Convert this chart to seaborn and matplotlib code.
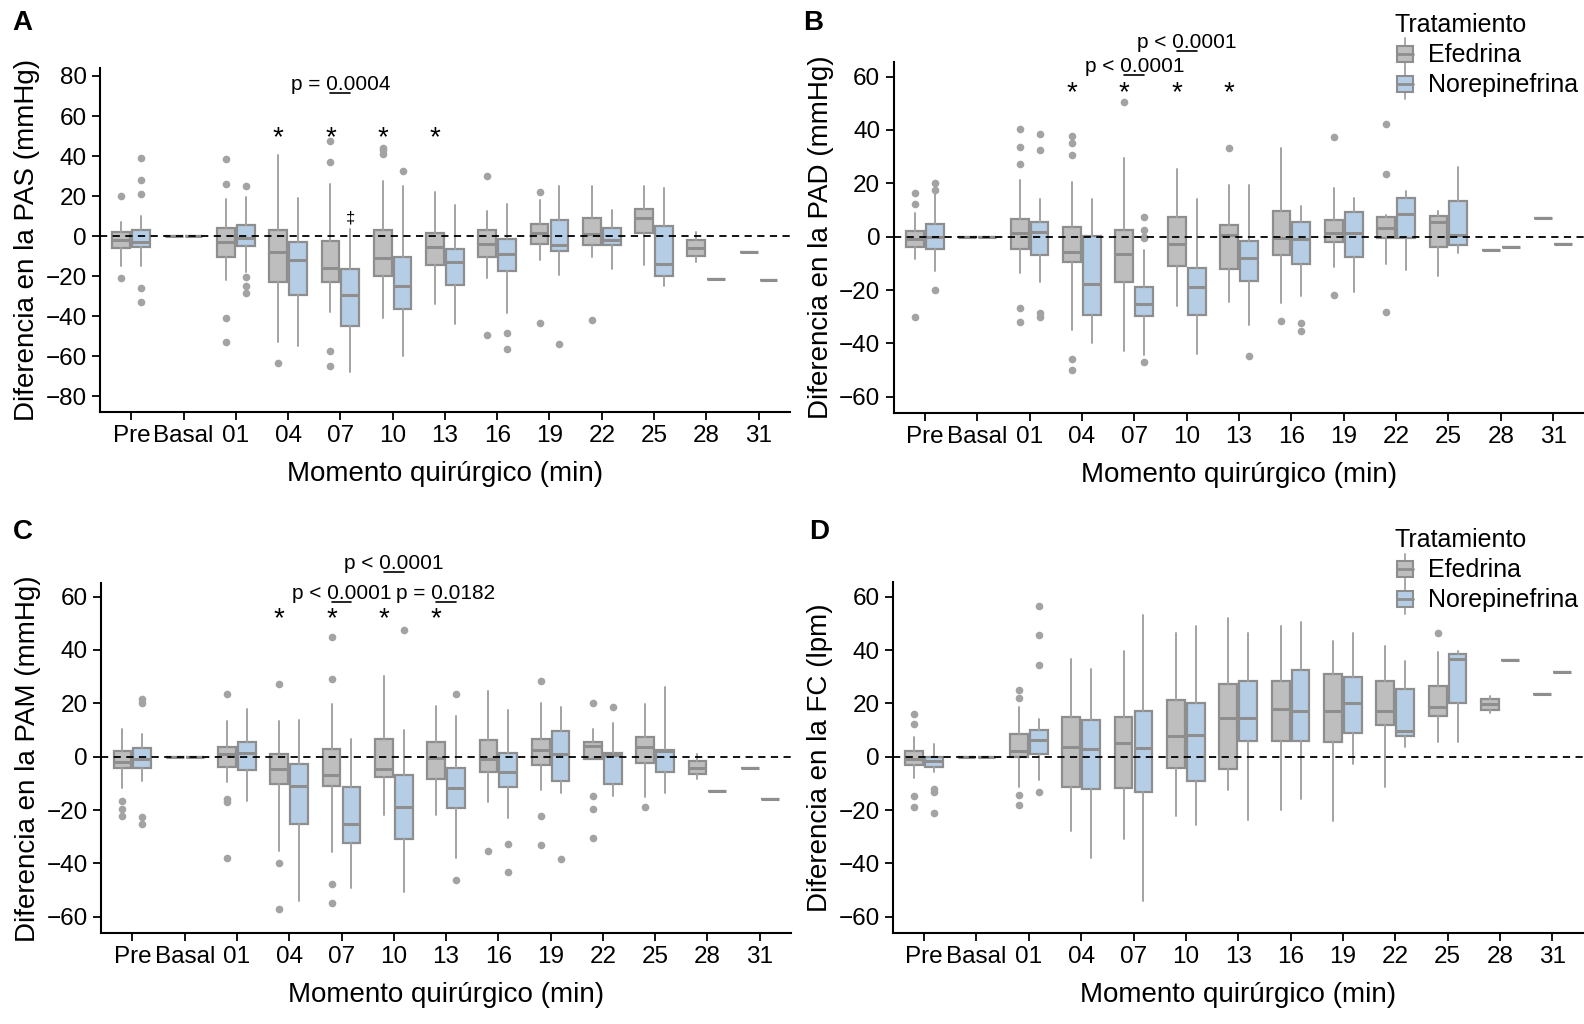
import matplotlib
matplotlib.use("Agg")
import matplotlib.pyplot as plt
import seaborn as sns
from matplotlib.legend_handler import HandlerBase
from matplotlib.patches import Rectangle, Patch
from matplotlib.lines import Line2D

sns.set_style("ticks")
plt.rcParams['font.family'] = ['Liberation Sans', 'DejaVu Sans']
plt.rcParams.update({'text.color': 'black', 'axes.labelcolor': 'black',
                     'xtick.color': 'black', 'ytick.color': 'black'})

moments = ["Pre", "Basal", "01", "04", "07", "10", "13", "16", "19", "22", "25", "28", "31"]
groups = ["Efedrina", "Norepinefrina"]

# each row: [whisker low, q1, median, q3, whisker high]
# --- PAS ---
pas_efe = [[-15, -5.8, -1.7, 2.2, 7.2], [0, 0, 0, 0, 0], [-21.7, -10.3, -3, 4.2, 18.7],
           [-53, -23, -8, 3.3, 40.5], [-38, -23, -15.8, -2.5, 26.2], [-40.8, -20, -10.8, 3.3, 27.5],
           [-33.8, -14.5, -5.5, 1.8, 22.2], [-20.8, -10.3, -3.8, 3.2, 12.8], [-11.7, -3.7, 1.7, 6.2, 17.8],
           [-10.5, -4.5, 1.3, 9.3, 25], [-14.2, 1.8, 9.2, 13.5, 25], [-12.7, -9.8, -5.8, -1.8, 2],
           [-8, -8, -8, -8, -8]]
pas_efe_out = [[20, -21], [], [38.3, 26.2, -41, -53], [-63.3], [47.5, 37.2, -57.2, -65], [44, 43, 41.2],
               [], [30.2, -49.2], [22.2, -43.2], [-41.8], [], [], []]
pas_nor = [[-15, -5.2, -3, 3, 10], [0, 0, 0, 0, 0], [-18, -4.7, -0.8, 5.5, 19.5],
           [-55, -29.2, -12, -2.8, 19.2], [-67.8, -45, -29.2, -16.3, 3.7], [-59.7, -36.3, -25, -10.3, 25],
           [-43.8, -24.2, -12.7, -6.2, 15.8], [-38.3, -17.2, -8.7, -1.5, 16], [-19.5, -7.2, -4.3, 8, 25],
           [-16.3, -4.2, -2, 4, 13], [-25, -20, -14, 5.3, 23.8], [-21.2, -21.2, -21.2, -21.2, -21.2],
           [-22, -22, -22, -22, -22]]
pas_nor_out = [[39, 28, 21, -26, -33], [], [25, -20.5, -24.7, -28.3], [], [], [32.5],
               [], [-48.2, -56.2], [-53.8], [], [], [], []]

# --- PAD ---
pad_efe = [[-8.4, -3.9, -0.9, 2.25, 8.75], [0, 0, 0, 0, 0], [-13.75, -4.75, 1.5, 6.5, 21.25],
           [-35, -9.5, -5.6, 3.5, 20.5], [-42.75, -16.9, -6.6, 2.5, 29.6], [-25.9, -11, -2.75, 7.5, 25.5],
           [-24.6, -12.25, 0.5, 4.4, 19.4], [-24.75, -7, -0.4, 9.75, 33.1], [-11.25, -2.1, 1.5, 6.4, 18.1],
           [-10.25, -0.6, 3.4, 7.25, 8.1], [-14.75, -4, 5.4, 7.75, 9.75], [-5, -5, -5, -5, -5],
           [7, 7, 7, 7, 7]]
pad_efe_out = [[16.25, 12.4, -30], [], [40.4, 33.6, 27.25, -26.9, -32.1], [37.9, 35.25, 30.6, -46, -50],
               [50.5], [], [33.4], [-31.6], [37.5, -21.9], [42.4, 23.5, -28.1], [], [], []]
pad_nor = [[-13, -4.5, 0, 4.6, 16], [0, 0, 0, 0, 0], [-16.9, -7, 1.6, 5.6, 14.1],
           [-39.75, -29.4, -17.9, 0.25, 14], [-44.4, -29.75, -25.1, -18.75, -5], [-44, -29.5, -18.75, -11.6, 14],
           [-33.1, -16.6, -7.9, -1.6, 19.4], [-22.25, -10.1, -0.75, 5.4, 11.6], [-20.9, -7.6, 1.5, 9.1, 14.6],
           [-12.5, -0.5, 8.4, 14.4, 17.1], [-6.25, -3.25, 0.5, 13.5, 26.25], [-3.9, -3.9, -3.9, -3.9, -3.9],
           [-2.6, -2.6, -2.6, -2.6, -2.6]]
pad_nor_out = [[20, 17.6, -20], [], [38.4, 32.5, -28.75, -30], [], [7.5, 2.5, 0, -0.6, -47.1], [],
               [-44.75], [-32.25, -35.4], [], [], [], [], []]

# --- PAM ---
pam_efe = [[-11.9, -4.25, -2.1, 2, 10.25], [0, 0, 0, 0, 0], [-9.6, -4, 1.1, 3.5, 13.4],
           [-35.25, -10.4, -4.75, 1.1, 13.4], [-35.6, -10.9, -6.75, 3, 19.6], [-21.9, -7.75, -4.75, 6.5, 30.25],
           [-21.9, -8.4, -0.4, 5.4, 19], [-16.9, -5.9, -0.75, 6.4, 24.6], [-12.4, -3, 2.4, 6.75, 20.25],
           [-1, -1, 4.1, 5.5, 10.25], [-15.1, -2.4, 3.5, 7.5, 19.9], [-8.5, -6.6, -4.1, -1.6, 1.1],
           [-4.25, -4.25, -4.25, -4.25, -4.25]]
pam_efe_out = [[-16.6, -19.5, -22.25], [], [23.6, -16, -16.9, -38.1], [27.25, -40, -57.25],
               [45, 29.1, -47.75, -55], [], [], [-35.25], [28.4, -22.25, -33.1], [20.25, -14.9, -19.75, -30.4],
               [-19], [], []]
pam_nor = [[-9.1, -4.25, -1, 3.25, 8.4], [0, 0, 0, 0, 0], [-16.6, -5, 1.25, 5.4, 18],
           [-54.1, -25.25, -10.9, -2.9, 13.75], [-49.1, -32.25, -25.25, -11.4, 6.75], [-50.9, -30.9, -19, -6.9, 10],
           [-38.1, -19.1, -11.75, -4.25, 15.25], [-22.9, -11.25, -5.6, 1.5, 17.4], [-13.75, -9.25, 1.1, 9.5, 18.75],
           [-14.9, -10.25, 0.6, 1.5, 12.75], [-13.75, -5.9, 2.25, 2.6, 26.1], [-12.75, -12.75, -12.75, -12.75, -12.75],
           [-15.9, -15.9, -15.9, -15.9, -15.9]]
pam_nor_out = [[21.5, 20, -22.5, -25.4], [], [], [], [], [47.4], [23.4, -46.25], [-32.75, -43.1],
               [-38.4], [18.6], [], [], []]

# --- FC ---
fc_efe = [[-7.9, -3, -1, 2.25, 7.5], [0, 0, 0, 0, 0], [-11.5, 0, 2, 8.5, 18.75],
          [-27.9, -11.25, 3.75, 14.75, 36.5], [-31, -11.9, 5.25, 15, 39.5], [-22.25, -4.1, 7.9, 21.25, 46.5],
          [-12.5, -4.75, 14.4, 27.4, 52.1], [-20, 5.75, 17.9, 28.5, 49], [-24.1, 5.6, 17.1, 30.9, 43.25],
          [-11.5, 11.9, 17.25, 28.25, 41.5], [5.4, 15.4, 18.6, 26.6, 39.4], [16.4, 17.6, 19.6, 21.6, 22.9],
          [23.4, 23.4, 23.4, 23.4, 23.4]]
fc_efe_out = [[16.1, 12.1, -14.75, -19], [], [25, 21.9, -14.25, -18.25], [], [], [], [], [], [], [],
              [46.25], [], []]
fc_nor = [[-5.9, -4, -1.5, 0, 4.75], [0, 0, 0, 0, 0], [-8.75, 1.1, 6.1, 10.1, 14],
          [-37.9, -12, 2.75, 13.9, 32.9], [-54.1, -13.25, 3.25, 17.1, 53.1], [-25.5, -9, 8.1, 20, 49],
          [-23.75, 5.9, 14.4, 28.4, 46.5], [-16, 5.75, 17, 32.4, 50.4], [-2.6, 9, 20.25, 29.75, 46.25],
          [3.6, 7.9, 9.5, 25.25, 36], [5.4, 20.25, 36.5, 38.4, 39.6], [36.4, 36.4, 36.4, 36.4, 36.4],
          [31.9, 31.9, 31.9, 31.9, 31.9]]
fc_nor_out = [[-12.25, -13.1, -21], [], [56.5, 45.5, 34.25, -13.25], [], [], [], [], [], [], [], [], [], []]

GRAY = "#bebebe"
BLUE = "#b5cee6"
EDGE = "#8e8e8e"
WHISK = "#a3a3a3"


class BoxHandler(HandlerBase):
    def create_artists(self, legend, orig_handle, xdescent, ydescent, width, height, fontsize, trans):
        x0, y0 = -xdescent, -ydescent
        bw = width * 0.8
        bx = x0 + (width - bw) / 2
        cx = x0 + width / 2
        w1 = Line2D([cx, cx], [y0 - 0.1 * height, y0 + 0.2 * height], color=WHISK, lw=1.3, transform=trans)
        w2 = Line2D([cx, cx], [y0 + 0.8 * height, y0 + 1.1 * height], color=WHISK, lw=1.3, transform=trans)
        box = Rectangle((bx, y0 + 0.2 * height), bw, 0.6 * height, facecolor=orig_handle.get_facecolor(),
                        edgecolor=EDGE, lw=1.5, transform=trans)
        med = Line2D([bx, bx + bw], [y0 + height / 2] * 2, color=EDGE, lw=2, transform=trans)
        return [w1, w2, box, med]


def draw_panel(ax, efe, efe_out, nor, nor_out, ylim, yticks, ylabel):
    for rows, outs, off, fill in ((efe, efe_out, -0.19, GRAY), (nor, nor_out, 0.19, BLUE)):
        stats = [dict(whislo=r[0], q1=r[1], med=r[2], q3=r[3], whishi=r[4], fliers=o)
                 for r, o in zip(rows, outs)]
        ax.bxp(stats, positions=[i + off for i in range(len(rows))], widths=0.34,
               patch_artist=True, showcaps=False, manage_ticks=False,
               boxprops=dict(facecolor=fill, edgecolor=EDGE, linewidth=1.6),
               medianprops=dict(color=EDGE, linewidth=2.2),
               whiskerprops=dict(color=WHISK, linewidth=1.4),
               flierprops=dict(marker='o', markerfacecolor=WHISK, markeredgecolor='none', markersize=5.5))
    ax.axhline(0, color='black', ls=(0, (4, 3)), lw=1.3, zorder=5)
    ax.set_xlim(-0.6, 12.6)
    ax.set_ylim(*ylim)
    ax.set_yticks(yticks)
    ax.set_xticks(range(len(moments)))
    ax.set_xticklabels(moments)
    ax.set_xlabel("Momento quirúrgico (min)", fontsize=20, labelpad=10)
    ax.set_ylabel(ylabel, fontsize=20, labelpad=4)
    ax.tick_params(labelsize=17.5, length=6, width=1.3, color='black', labelcolor='black')
    sns.despine(ax=ax)
    for s in ("left", "bottom"):
        ax.spines[s].set_linewidth(1.5)
        ax.spines[s].set_color('black')


def bracket(ax, i, y, label):
    x1, x2 = i - 0.19, i + 0.19
    ax.plot([x1, x2], [y, y], color='black', lw=1.2, clip_on=False)
    ax.annotate(label, xy=((x1 + x2) / 2, y), xytext=(0, 2), textcoords='offset points',
                ha='center', va='baseline', fontsize=15, annotation_clip=False)


def stars(ax, y):
    for i in (3, 4, 5, 6):
        ax.text(i - 0.19, y, "*", ha='center', va='center', fontsize=20)


def add_legend(ax, fig, y):
    handles = [Patch(facecolor=GRAY, label=groups[0]), Patch(facecolor=BLUE, label=groups[1])]
    leg = ax.legend(handles=handles, title="Tratamiento", handler_map={Patch: BoxHandler()},
                    frameon=False, fontsize=18, title_fontsize=18, loc='upper left',
                    bbox_to_anchor=(0.8805, y), bbox_transform=fig.transFigure,
                    handlelength=0.8, handleheight=1.2, labelspacing=0.15, handletextpad=0.55,
                    borderaxespad=0, borderpad=0, alignment='left')
    return leg


fig = plt.figure(figsize=(15.84, 10.24), dpi=100)
axA = fig.add_axes([0.0631, 0.5974, 0.4356, 0.3362])
axB = fig.add_axes([0.5641, 0.5964, 0.4362, 0.3434])
axC = fig.add_axes([0.0638, 0.0886, 0.4356, 0.3418])
axD = fig.add_axes([0.5636, 0.0889, 0.4362, 0.3430])

draw_panel(axA, pas_efe, pas_efe_out, pas_nor, pas_nor_out, (-88, 84), range(-80, 81, 20),
           "Diferencia en la PAS (mmHg)")
draw_panel(axB, pad_efe, pad_efe_out, pad_nor, pad_nor_out, (-66.2, 65.6), range(-60, 61, 20),
           "Diferencia en la PAD (mmHg)")
draw_panel(axC, pam_efe, pam_efe_out, pam_nor, pam_nor_out, (-66.2, 65), range(-60, 61, 20),
           "Diferencia en la PAM (mmHg)")
draw_panel(axD, fc_efe, fc_efe_out, fc_nor, fc_nor_out, (-66.1, 65.6), range(-60, 61, 20),
           "Diferencia en la FC (lpm)")

# significance marks
stars(axA, 48.8)
stars(axB, 53.9)
stars(axC, 51.4)
bracket(axA, 4, 71.7, "p = 0.0004")
axA.text(4.19, 9.3, "‡", ha='center', va='center', fontsize=12)
bracket(axB, 4, 60.6, "p < 0.0001")
bracket(axB, 5, 69.7, "p < 0.0001")
bracket(axC, 5, 69.4, "p < 0.0001")
bracket(axC, 4, 57.9, "p < 0.0001")
bracket(axC, 6, 57.9, "p = 0.0182")

add_legend(axB, fig, 0.987)
add_legend(axD, fig, 0.484)

for lab, x, y in (("A", 0.008, 0.978), ("B", 0.507, 0.978), ("C", 0.008, 0.480), ("D", 0.511, 0.480)):
    fig.text(x, y, lab, fontsize=20, fontweight='bold', ha='left', va='center')

fig.savefig("out.png", dpi=100)
